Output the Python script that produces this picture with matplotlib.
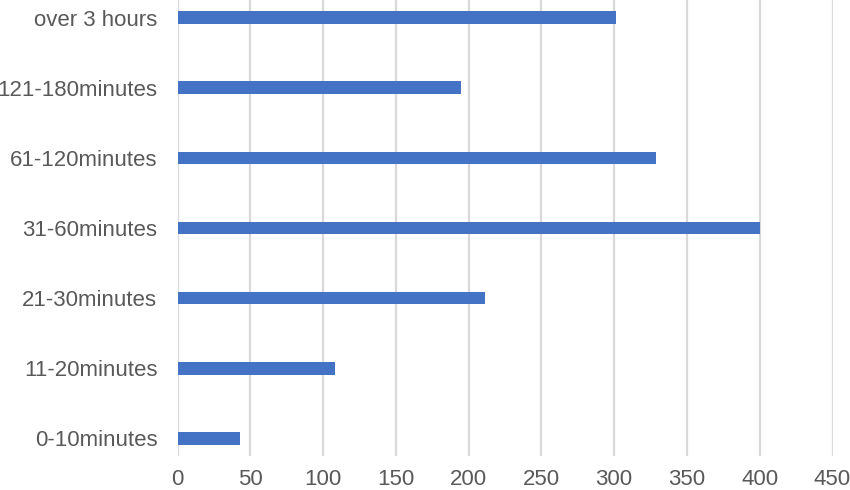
import matplotlib
matplotlib.use('Agg')
import matplotlib.pyplot as plt

categories = ['0-10minutes', '11-20minutes', '21-30minutes', '31-60minutes',
              '61-120minutes', '121-180minutes', 'over 3 hours']
counts = [43, 108, 211, 400, 329, 195, 301]
x_ticks = [0, 50, 100, 150, 200, 250, 300, 350, 400, 450]

plt.rcParams['font.family'] = ['Liberation Sans', 'DejaVu Sans']

fig = plt.figure(figsize=(8.5, 4.9), dpi=100)
ax = fig.add_axes([177.5 / 850, 34 / 490, 655 / 850, 456 / 490])

ax.barh(range(len(categories)), counts, height=0.18, color='#4472C4', zorder=3)

ax.set_xlim(0, 450)
ax.set_ylim(-0.25, len(categories) - 0.75)
ax.set_xticks(x_ticks)
ax.set_yticks(range(len(categories)))
ax.set_yticklabels(categories)

ax.grid(axis='x', color='#d9d9d9', linewidth=1.6, zorder=0)
for s in ax.spines.values():
  s.set_visible(False)

ax.tick_params(axis='y', length=0, pad=14.5, labelsize=16, labelcolor='#595959')
ax.tick_params(axis='x', length=0, pad=9, labelsize=16, labelcolor='#595959')

fig.savefig('out.png', dpi=100)
